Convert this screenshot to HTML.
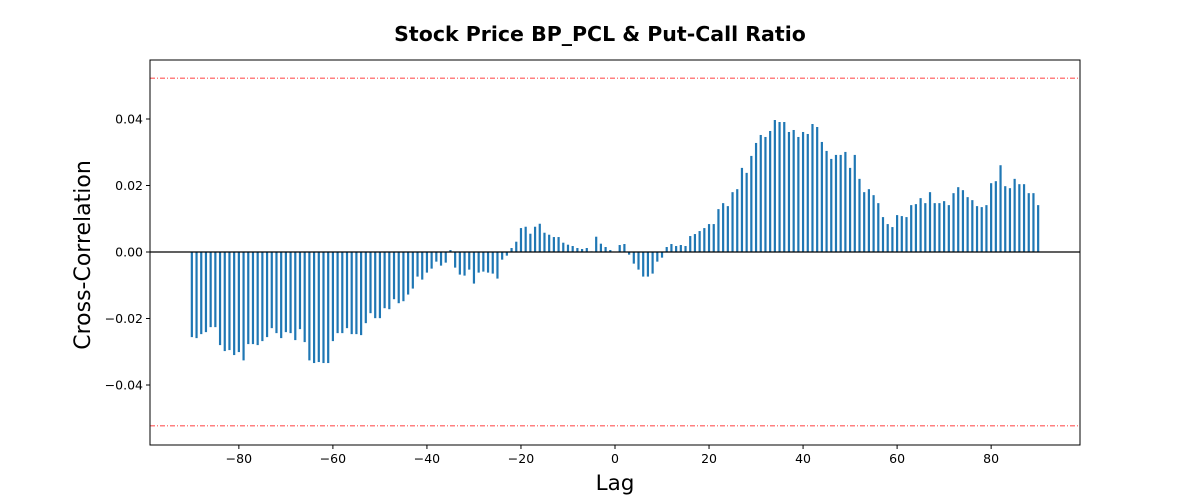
<!DOCTYPE html>
<html><head><meta charset="utf-8"><style>
body{margin:0;background:#fff;font-family:"DejaVu Sans",sans-serif;}
svg text{font-family:"DejaVu Sans","Liberation Sans",sans-serif;}
</style></head><body>
<svg id="chart" width="1200" height="500" xmlns="http://www.w3.org/2000/svg">
<rect width="1200" height="500" fill="#fff"/>
<text x="600" y="41" text-anchor="middle" font-size="20.5" font-weight="bold">Stock Price BP_PCL &amp; Put-Call Ratio</text>
<g id="plot"></g>
<text x="615" y="490" text-anchor="middle" font-size="21.5">Lag</text>
<text transform="translate(90,255) rotate(-90)" text-anchor="middle" font-size="22">Cross-Correlation</text>
</svg>
<script>
const lagStart = -90;
const corrValues = [
-0.0256,-0.0259,-0.0247,-0.0241,-0.0226,-0.0226,-0.028,-0.0298,-0.0295,-0.031,
-0.0301,-0.0326,-0.0277,-0.0277,-0.028,-0.0268,-0.0256,-0.0229,-0.0244,-0.0259,
-0.0241,-0.0244,-0.0265,-0.0232,-0.0271,-0.0326,-0.0334,-0.0331,-0.0334,-0.0334,
-0.0268,-0.0244,-0.0244,-0.0229,-0.0247,-0.0247,-0.025,-0.0214,-0.0184,-0.0199,
-0.0199,-0.0169,-0.0172,-0.0142,-0.0154,-0.0148,
-0.0128,-0.011,-0.0074,-0.0083,-0.0062,-0.005,-0.0029,-0.0041,-0.0032,0.0006,
-0.0047,-0.0068,-0.0071,-0.0053,-0.0095,-0.0062,-0.0059,-0.0062,-0.0065,-0.008,
-0.0023,-0.0011,0.0012,0.0031,0.0072,0.0076,0.0055,0.0076,0.0085,0.0058,
0.0052,0.0045,0.0045,0.0028,0.0022,0.0018,0.0012,0.0009,0.0012,0.0002,
0.0046,0.0025,0.0015,0.0006,0.0001,
0.0021,0.0024,-0.0008,-0.0035,-0.0053,-0.0074,-0.0074,-0.0065,-0.0029,-0.0017,
0.0015,0.0024,0.0018,0.0021,0.0018,0.0048,0.0054,0.0063,0.0072,0.0084,
0.0084,0.0129,0.0147,0.0138,0.018,0.0189,0.0253,0.0238,0.0289,0.0328,
0.0352,0.0346,0.0364,0.0397,0.0391,0.0391,0.0361,0.0367,0.0346,0.0361,
0.0355,0.0385,0.0376,0.0331,0.0304,0.028,0.0292,0.0292,0.0301,0.0253,
0.0292,0.022,0.018,0.0189,0.0171,0.0147,0.0105,0.0084,0.0075,0.0111,
0.0108,0.0105,0.0141,0.0144,0.0162,0.0147,0.018,0.0147,0.0147,0.0153,
0.0141,0.0177,0.0195,0.0186,0.0165,0.0156,0.0138,0.0135,0.0141,0.0207,
0.0213,0.0261,0.0198,0.0192,0.022,0.0204,0.0204,0.0177,0.0177,0.0141];
const confLevel = 0.0523;
const xTicks = [-80,-60,-40,-20,0,20,40,60,80];
const yTicks = [-0.04,-0.02,0.00,0.02,0.04];
const yTickLabels = ["−0.04","−0.02","0.00","0.02","0.04"];

const L=150,R=1080,T=60,B=445;
const xMin=-98.9,xMax=98.9,yMin=-0.05805,yMax=0.05775;
const sx=v=>L+(v-xMin)/(xMax-xMin)*(R-L);
const sy=v=>T+(yMax-v)/(yMax-yMin)*(B-T);
const NS="http://www.w3.org/2000/svg";
const g=document.getElementById('plot');
function mk(tag,attrs){const e=document.createElementNS(NS,tag);for(const k in attrs)e.setAttribute(k,attrs[k]);g.appendChild(e);return e;}

corrValues.forEach((v,i)=>{
  const lag=lagStart+i;
  const y0=sy(0),y1=sy(v);
  const r=mk('rect',{x:sx(lag)-1.1,y:Math.min(y0,y1),width:2.2,height:Math.abs(y1-y0),fill:'#1f77b4'});
  
  
});
const zl=mk('line',{x1:L,x2:R,y1:sy(0),y2:sy(0),stroke:'#000','stroke-width':1.3});


[confLevel,-confLevel].forEach((c,i)=>{
  const l=mk('line',{x1:L,x2:R,y1:sy(c),y2:sy(c),stroke:'#ff0000','stroke-width':0.8,'stroke-dasharray':'5 2 1 2'});
  
  
});
const frame=mk('rect',{x:L,y:T,width:R-L,height:B-T,fill:'none',stroke:'#000','stroke-width':1});


xTicks.forEach(t=>{
  mk('line',{x1:sx(t),x2:sx(t),y1:B,y2:B+4,stroke:'#000'});
  const tx=mk('text',{x:sx(t),y:B+18,'text-anchor':'middle','font-size':12.5});
  tx.textContent=(t<0?'−':'')+Math.abs(t);
  
  
});
yTicks.forEach((t,i)=>{
  mk('line',{x1:L-4,x2:L,y1:sy(t),y2:sy(t),stroke:'#000'});
  const tx=mk('text',{x:L-7,y:sy(t)+4.5,'text-anchor':'end','font-size':12.5});
  tx.textContent=yTickLabels[i];
  
  
});
</script>
</body></html>
